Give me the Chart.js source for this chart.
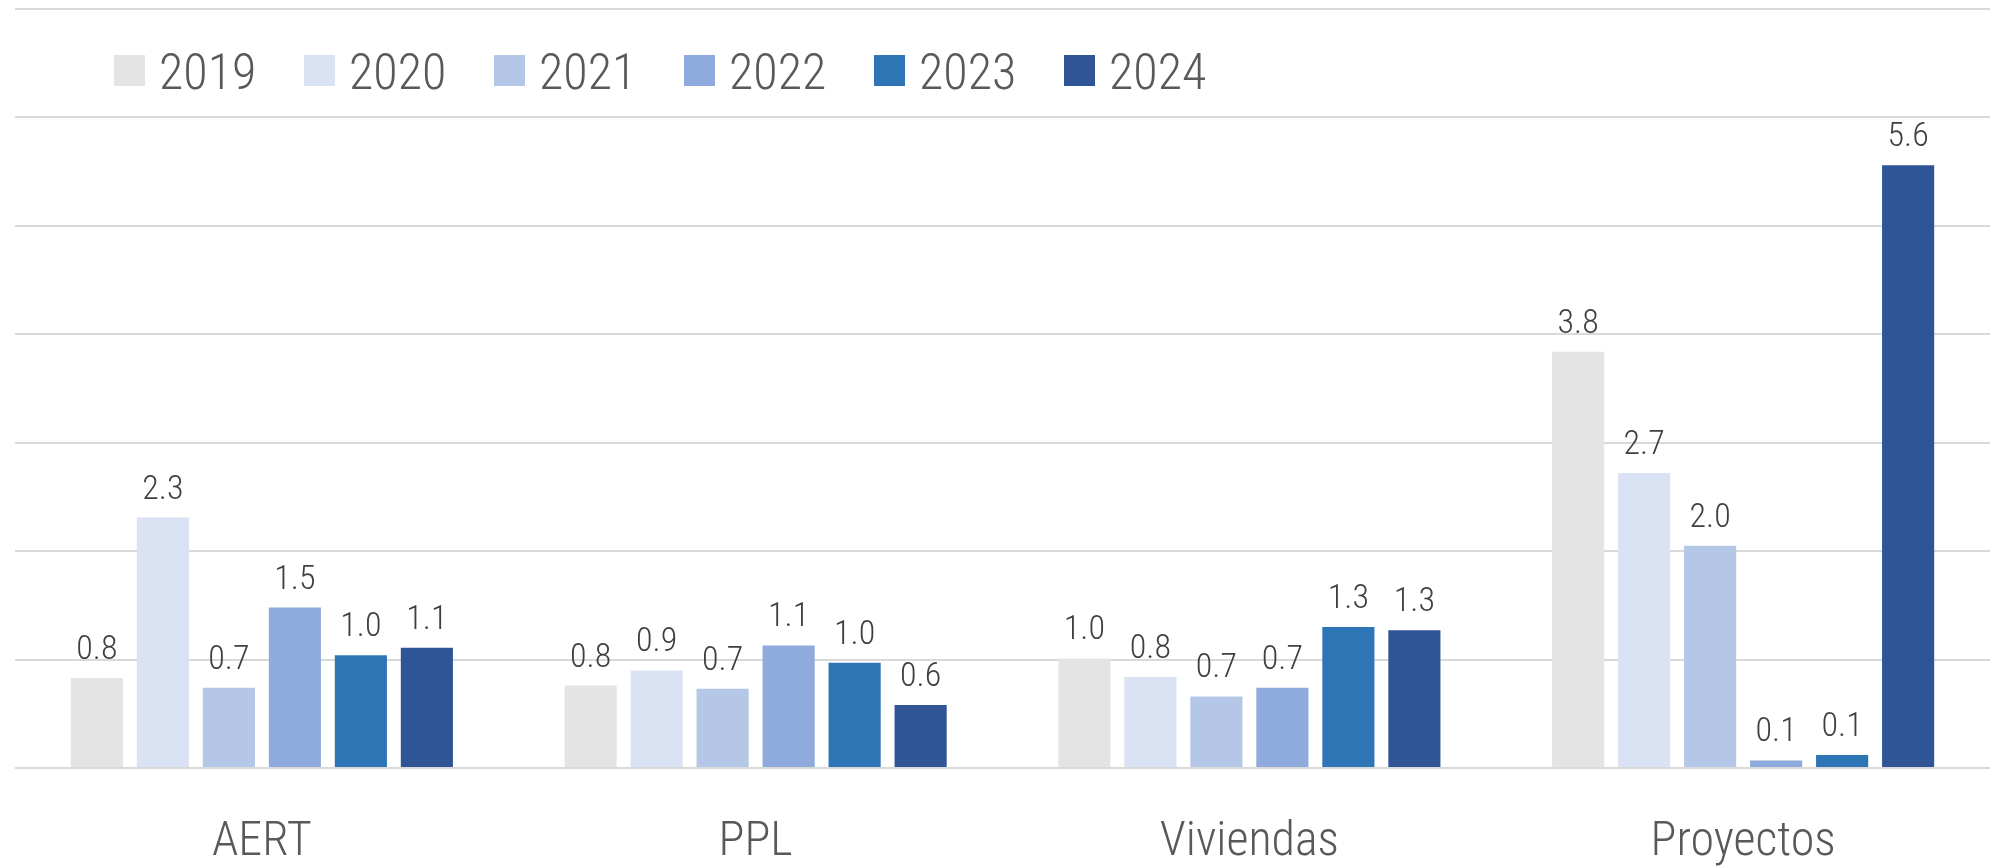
<!DOCTYPE html>
<html>
<head>
<meta charset="utf-8">
<script src="https://cdn.jsdelivr.net/npm/chart.js@4/dist/chart.umd.min.js"></script>
<style>
  html, body { margin: 0; padding: 0; background: #ffffff; }
  #chart { display: block; }
</style>
</head>
<body>
<canvas id="chart" width="1990" height="866"></canvas>
<script>
const categories = ["AERT", "PPL", "Viviendas", "Proyectos"];
const years = ["2019", "2020", "2021", "2022", "2023", "2024"];

const values2019 = [0.83, 0.76, 1.01, 3.84];
const values2020 = [2.31, 0.90, 0.84, 2.72];
const values2021 = [0.74, 0.73, 0.66, 2.05];
const values2022 = [1.48, 1.13, 0.74, 0.07];
const values2023 = [1.04, 0.97, 1.30, 0.12];
const values2024 = [1.11, 0.58, 1.27, 5.56];

const yearColors = ["#e4e4e4", "#dae3f3", "#b4c7e7", "#8faadc", "#2e75b6", "#2f5597"];
const seriesValues = [values2019, values2020, values2021, values2022, values2023, values2024];

const FAMILY = "Roboto, 'Open Sans', sans-serif";
const WEIGHT = "300 condensed";

// value labels above each bar
const barLabels = {
  id: "barLabels",
  afterDatasetsDraw(chart) {
    const ctx = chart.ctx;
    ctx.save();
    ctx.font = `${WEIGHT} 34px ${FAMILY}`;
    ctx.fillStyle = "#404040";
    ctx.textAlign = "center";
    ctx.textBaseline = "alphabetic";
    chart.data.datasets.forEach((dataset, i) => {
      chart.getDatasetMeta(i).data.forEach((bar, j) => {
        ctx.fillText(dataset.data[j].toFixed(1), bar.x, bar.y - 19);
      });
    });
    ctx.restore();
  },
};

// legend sits inside the plot, over the gridlines like the original
const insideLegend = {
  id: "insideLegend",
  afterDraw(chart) {
    const ctx = chart.ctx;
    ctx.save();
    ctx.font = `${WEIGHT} 50px ${FAMILY}`;
    ctx.textBaseline = "alphabetic";
    ctx.textAlign = "left";
    chart.data.datasets.forEach((dataset, i) => {
      const x = 114 + i * 190;
      ctx.fillStyle = dataset.backgroundColor;
      ctx.fillRect(x, 55, 31, 31);
      ctx.fillStyle = "#595959";
      ctx.fillText(dataset.label, x + 45, 89);
    });
    ctx.restore();
  },
};

new Chart(document.getElementById("chart"), {
  type: "bar",
  data: {
    labels: categories,
    datasets: years.map((year, i) => ({
      label: year,
      data: seriesValues[i],
      backgroundColor: yearColors[i],
      borderWidth: 0,
      barPercentage: 0.79,
      categoryPercentage: 0.802,
    })),
  },
  options: {
    responsive: false,
    animation: false,
    layout: { padding: { left: 15, right: -4, top: 9, bottom: 0 } },
    plugins: {
      legend: { display: false },
      tooltip: { enabled: false },
    },
    scales: {
      x: {
        grid: { display: false },
        border: { display: false },
        ticks: {
          color: "#595959",
          padding: 43,
          font: { family: FAMILY, weight: WEIGHT, size: 48, lineHeight: 1 },
        },
        afterFit(scale) {
          scale.height = 98;
        },
      },
      y: {
        min: 0,
        max: 7,
        grid: { color: "#d9d9d9", lineWidth: 2, drawTicks: false },
        border: { display: false },
        ticks: { display: false, stepSize: 1 },
      },
    },
  },
  plugins: [barLabels, insideLegend],
});
</script>
</body>
</html>
